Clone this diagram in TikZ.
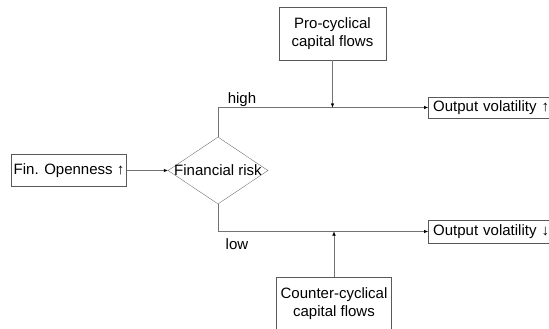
\documentclass[tikz,border=0pt]{standalone}
\usepackage{fontspec}
\setmainfont{Liberation Sans}
\usetikzlibrary{shapes.geometric,arrows.meta,positioning,calc}

\begin{document}
\begin{tikzpicture}[x=1pt, y=-1pt,
    block/.style={rectangle, draw=black!65, align=center, inner sep=2pt, font=\fontsize{15}{18}\selectfont},
    outbox/.style={block, anchor=west, inner xsep=5pt, text width=120pt, align=left},
    decision/.style={diamond, draw=black!55, minimum width=100pt, minimum height=67pt, inner sep=0pt},
    lbl/.style={font=\fontsize{15}{18}\selectfont},
    arrow/.style={draw=black!55, -{Latex[length=4pt,width=3.5pt,black]}}
]
    \useasboundingbox (0,0) rectangle (549,329);
    \clip (0,0) rectangle (549,329);

    % Main chain
    \node[block, minimum width=114pt, minimum height=32pt] (open) at (69,170.5) {Fin. Openness ↑};
    \node[decision] (risk) at (218,170.5) {};
    \node[lbl] (risktext) at (risk.center) {Financial risk};

    % Outcomes
    \node[outbox, minimum height=21pt] (outup) at (428,107.5) {Output volatility ↑};
    \node[outbox, minimum height=23pt] (outdown) at (428,231.5) {Output volatility ↓};

    % Capital flows
    \node[block, minimum width=107pt, minimum height=53pt] (pro) at (332.5,33.5) {Pro-cyclical\\capital flows};
    \node[block, minimum width=115pt, minimum height=54pt] (counter) at (334,304) {Counter-cyclical\\capital flows};

    \coordinate (jointop) at (pro.south |- outup.west);
    \coordinate (joinbot) at (counter.north |- outdown.west);

    % Arrows
    \draw[arrow] (open) -- (risk);
    \draw[arrow] (risk.north) |- (outup.west);
    \draw[arrow] (risk.south) |- (outdown.west);
    \draw[arrow] (pro.south) -- (jointop);
    \draw[arrow] (counter.north) -- (joinbot);

    % Branch labels
    \node[lbl] (high) at (242,100) {high};
    \node[lbl] (low) at (237,244) {low};
\end{tikzpicture}
\end{document}
